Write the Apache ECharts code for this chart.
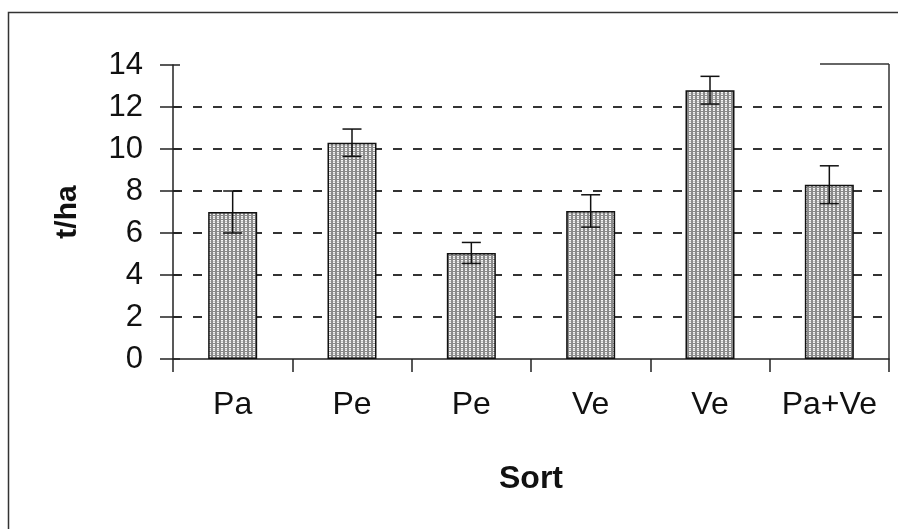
<!DOCTYPE html>
<html><head><meta charset="utf-8">
<script src="https://cdn.jsdelivr.net/npm/echarts/dist/echarts.min.js"></script>
<style>html,body{margin:0;padding:0;background:#fff}#c{width:898px;height:529px}</style>
</head><body><div id="c"></div>
<script>
const categories = ['Pa', 'Pe', 'Pe', 'Ve', 'Ve', 'Pa+Ve'];
const values = [7.0, 10.3, 5.05, 7.05, 12.8, 8.3];
const errors = [1.0, 0.65, 0.5, 0.77, 0.66, 0.9];
const yMin = 0, yMax = 14, yStep = 2;
const xTitle = 'Sort';
const yTitle = 't/ha';

// hatch pattern tile
const tile = document.createElement('canvas');
tile.width = 4; tile.height = 4;
const g = tile.getContext('2d');
g.fillStyle = '#8a8a8a'; g.fillRect(0, 0, 4, 4);
g.fillStyle = '#f4f4f4'; g.fillRect(1, 0, 2, 3);
g.fillStyle = '#c8c8c8'; g.fillRect(1, 1, 2, 1);

const font = '"Liberation Sans", Arial, sans-serif';
const chart = echarts.init(document.getElementById('c'), null, {renderer: 'canvas'});
chart.setOption({
  animation: false,
  backgroundColor: '#fff',
  grid: {left: 173, top: 65, right: 9, bottom: 170, containLabel: false},
  xAxis: {
    type: 'category', data: categories, boundaryGap: true,
    axisLine: {lineStyle: {color: '#222', width: 1.5}},
    axisTick: {show: true, interval: 0, length: 13, lineStyle: {color: '#222', width: 1.5}},
    axisLabel: {color: '#111', fontSize: 32, fontFamily: font, margin: 30, interval: 0},
    name: xTitle, nameLocation: 'middle', nameGap: 104,
    nameTextStyle: {color: '#111', fontSize: 32, fontWeight: 'bold', fontFamily: font},
    splitLine: {show: false}
  },
  yAxis: [{
    type: 'value', min: yMin, max: yMax, interval: yStep,
    axisLine: {show: true, lineStyle: {color: '#222', width: 1.5}},
    axisTick: {show: true, length: 13, lineStyle: {color: '#222', width: 1.5}},
    axisLabel: {color: '#111', fontSize: 31, fontFamily: font, margin: 30},
    splitLine: {show: true, showMaxLine: false, showMinLine: false, lineStyle: {color: '#333', width: 2, type: [9, 11]}},
    name: yTitle, nameLocation: 'middle', nameGap: 90,
    nameTextStyle: {color: '#111', fontSize: 30, fontWeight: 'bold', fontFamily: font}
  }, {
    type: 'value', min: yMin, max: yMax, interval: yStep, position: 'left',
    axisLine: {show: false},
    axisTick: {show: true, inside: true, length: 7, lineStyle: {color: '#222', width: 1.5}},
    axisLabel: {show: false}, splitLine: {show: false}
  }],
  graphic: [
    {type: 'rect', shape: {x: 8.5, y: 12.5, width: 900, height: 530}, style: {fill: null, stroke: '#333', lineWidth: 1.5}, silent: true},
    {type: 'line', shape: {x1: 889, y1: 64, x2: 889, y2: 359}, style: {stroke: '#333', lineWidth: 1.5}, silent: true},
    {type: 'line', shape: {x1: 820, y1: 64, x2: 889, y2: 64}, style: {stroke: '#333', lineWidth: 1.5}, silent: true}
  ],
  series: [{
    type: 'bar', data: values, barWidth: 49,
    itemStyle: {color: {image: tile, repeat: 'repeat'}, borderColor: '#111', borderWidth: 1.5}
  }, {
    type: 'custom',
    data: categories.map((c, i) => [i, values[i], errors[i]]),
    encode: {x: 0, y: 1},
    z: 10,
    renderItem: function (params, api) {
      const x = api.value(0), v = api.value(1), e = api.value(2);
      const t = api.coord([x, v + e]), b = api.coord([x, v - e]);
      const hw = 9.5;
      const st = {stroke: '#111', lineWidth: 1.5};
      return {type: 'group', children: [
        {type: 'line', shape: {x1: t[0], y1: t[1], x2: b[0], y2: b[1]}, style: st},
        {type: 'line', shape: {x1: t[0] - hw, y1: t[1], x2: t[0] + hw, y2: t[1]}, style: st},
        {type: 'line', shape: {x1: b[0] - hw, y1: b[1], x2: b[0] + hw, y2: b[1]}, style: st}
      ]};
    }
  }]
});
</script>
</body></html>
